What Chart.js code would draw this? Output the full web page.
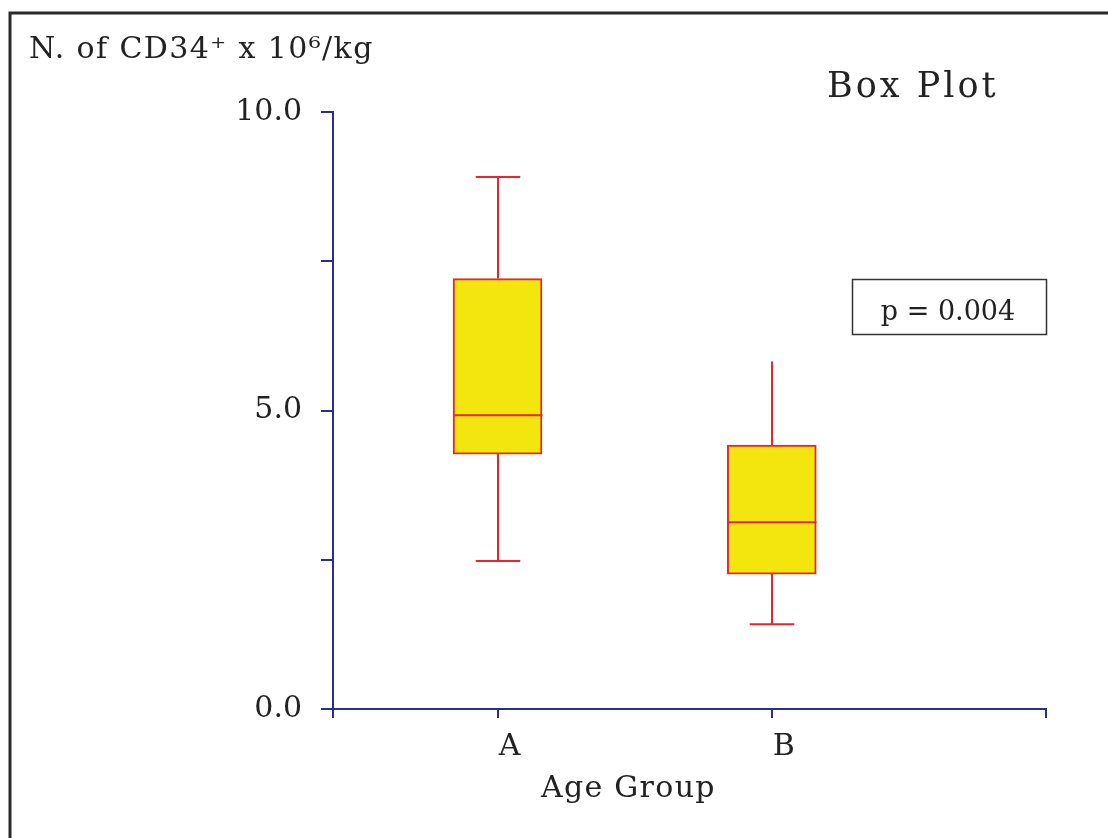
<!DOCTYPE html>
<html>
<head>
<meta charset="utf-8">
<script src="https://cdn.jsdelivr.net/npm/chart.js@4"></script>
<style>
  html, body { margin: 0; padding: 0; background: #ffffff; }
  canvas { display: block; }
</style>
</head>
<body>
<canvas id="c" width="1108" height="838"></canvas>
<script>
// ---- data ----
const categories = ['A', 'B'];
const categoryPositions = [1, 2];
const minValues    = [2.48, 1.42];
const q1Values     = [4.27, 2.26];
const medianValues = [4.92, 3.13];
const q3Values     = [7.21, 4.42];
const maxValues    = [8.91, 5.82];
const upperCaps    = [true, false];
const yTickValues  = [0, 2.5, 5, 7.5, 10];
const yLabelValues = [0, 5, 10];
const xAxisEnds    = [0.4, 3.0];
const yAxisTitle   = 'N. of CD34\u207A x 10\u2076/kg';
const xAxisTitle   = 'Age Group';
const chartTitle   = 'Box Plot';
const pValueText   = 'p = 0.004';

const AXIS = '#2b2f86';
const RED = '#e8262c';
const YELLOW = '#f2e60e';
const TEXT = '#222222';
const FONT = '"DejaVu Serif", serif';

const boxData = categoryPositions.map((x, i) => ({ x: x, y: [q1Values[i], q3Values[i]] }));

function spacedText(ctx, text, x, y, spacing) {
  if ('letterSpacing' in ctx) {
    ctx.letterSpacing = spacing + 'px';
    ctx.fillText(text, x, y);
    ctx.letterSpacing = '0px';
  } else {
    ctx.fillText(text, x, y);
  }
}

const boxPlugin = {
  id: 'boxExtras',
  beforeDraw(chart) {
    const ctx = chart.ctx;
    ctx.save();
    ctx.fillStyle = '#ffffff';
    ctx.fillRect(0, 0, chart.width, chart.height);
    ctx.strokeStyle = '#2a2a2a';
    ctx.lineWidth = 3;
    ctx.beginPath();
    ctx.moveTo(10, chart.height + 5);
    ctx.lineTo(10, 13);
    ctx.lineTo(chart.width + 5, 13);
    ctx.stroke();
    ctx.restore();
  },
  afterDatasetsDraw(chart) {
    const ctx = chart.ctx;
    const xs = chart.scales.x, ys = chart.scales.y;
    const meta = chart.getDatasetMeta(0);
    ctx.save();
    ctx.strokeStyle = RED;
    ctx.lineWidth = 2;
    categoryPositions.forEach((pos, i) => {
      const cx = Math.round(xs.getPixelForValue(pos));
      const bar = meta.data[i];
      const half = bar ? bar.width / 2 : 44;
      const capHalf = half / 2;
      const yMin = ys.getPixelForValue(minValues[i]);
      const yQ1 = ys.getPixelForValue(q1Values[i]);
      const yMed = ys.getPixelForValue(medianValues[i]);
      const yQ3 = ys.getPixelForValue(q3Values[i]);
      const yMax = ys.getPixelForValue(maxValues[i]);
      ctx.beginPath();
      ctx.moveTo(cx, yQ3); ctx.lineTo(cx, yMax);
      ctx.moveTo(cx, yQ1); ctx.lineTo(cx, yMin);
      ctx.moveTo(cx - capHalf, yMin); ctx.lineTo(cx + capHalf, yMin);
      if (upperCaps[i]) { ctx.moveTo(cx - capHalf, yMax); ctx.lineTo(cx + capHalf, yMax); }
      ctx.moveTo(cx - half, yMed); ctx.lineTo(cx + half, yMed);
      ctx.stroke();
    });
    ctx.restore();
  },
  afterDraw(chart) {
    const ctx = chart.ctx;
    ctx.save();
    ctx.fillStyle = TEXT;
    ctx.textBaseline = 'alphabetic';
    ctx.textAlign = 'left';
    ctx.font = '30px ' + FONT;
    spacedText(ctx, yAxisTitle, 29, 58, 1.4);
    ctx.font = '35px ' + FONT;
    spacedText(ctx, chartTitle, 827, 97, 3);
    ctx.font = '30px ' + FONT;
    spacedText(ctx, xAxisTitle, 541, 797, 1.3);
    ctx.strokeStyle = '#333333';
    ctx.lineWidth = 1.5;
    ctx.strokeRect(852.5, 279.5, 194, 55);
    ctx.font = '27px ' + FONT;
    ctx.textAlign = 'center';
    ctx.fillText(pValueText, 948, 320);
    ctx.restore();
  }
};

new Chart(document.getElementById('c'), {
  type: 'bar',
  data: {
    datasets: [{
      data: boxData,
      backgroundColor: YELLOW,
      borderColor: RED,
      borderWidth: 2,
      borderSkipped: false,
      barThickness: 89
    }]
  },
  options: {
    responsive: false,
    animation: false,
    devicePixelRatio: 1,
    layout: { padding: { top: 112, right: 62, left: 0, bottom: 0 } },
    plugins: { legend: { display: false }, tooltip: { enabled: false }, title: { display: false } },
    scales: {
      x: {
        type: 'linear',
        min: xAxisEnds[0],
        max: xAxisEnds[1],
        offset: false,
        afterFit(scale) { scale.height = 129; },
        afterBuildTicks(scale) {
          scale.ticks = [xAxisEnds[0], ...categoryPositions, xAxisEnds[1]].map(v => ({ value: v }));
        },
        grid: { offset: false, drawOnChartArea: false, drawTicks: true, tickLength: 9, color: AXIS, lineWidth: 2 },
        border: { display: true, color: AXIS, width: 2 },
        ticks: {
          autoSkip: false,
          maxRotation: 0,
          padding: 11,
          labelOffset: 12,
          color: TEXT,
          font: { family: FONT, size: 30 },
          callback(v) {
            const idx = categoryPositions.indexOf(v);
            return idx >= 0 ? categories[idx] : '';
          }
        }
      },
      y: {
        type: 'linear',
        min: 0,
        max: 10,
        afterFit(scale) { scale.width = 333; },
        afterBuildTicks(scale) { scale.ticks = yTickValues.map(v => ({ value: v })); },
        grid: { drawOnChartArea: false, drawTicks: true, tickLength: 12, color: AXIS, lineWidth: 2 },
        border: { display: true, color: AXIS, width: 2 },
        ticks: {
          autoSkip: false,
          padding: 19,
          color: TEXT,
          font: { family: FONT, size: 30 },
          callback(v) { return yLabelValues.includes(v) ? v.toFixed(1) : ''; }
        }
      }
    }
  },
  plugins: [boxPlugin]
});
</script>
</body>
</html>
